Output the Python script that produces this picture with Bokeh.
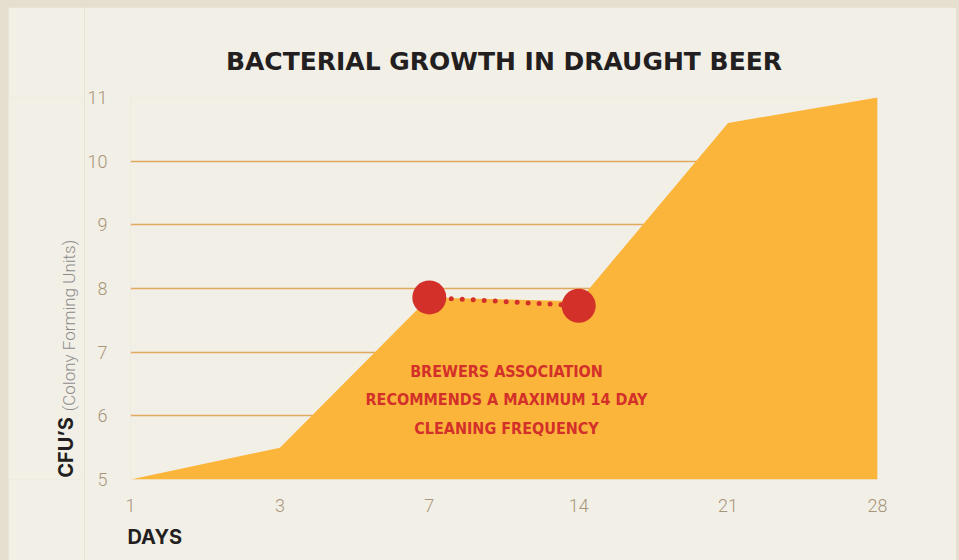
import math
from bokeh.plotting import figure
from bokeh.models import Range1d, FixedTicker, Title
from bokeh.layouts import row
from bokeh.core.properties import value
from bokeh.embed import file_html
from bokeh.resources import INLINE

# ---- data ----
day_labels = ["1", "3", "7", "14", "21", "28"]
cfu_values = [5.0, 5.5, 7.86, 7.8, 10.6, 11.0]
marker_days = ["7", "14"]
marker_cfu = [7.86, 7.73]
y_ticks = [5, 6, 7, 8, 9, 10, 11]
note_lines = ["BREWERS ASSOCIATION", "RECOMMENDS A MAXIMUM 14 DAY", "CLEANING FREQUENCY"]
title_text = "BACTERIAL GROWTH IN DRAUGHT BEER"
x_title = "DAYS"
y_title_bold = "CFU\u2019S"
y_title_light = "(Colony Forming Units)"

# ---- style ----
BG = "#f2efe7"
OUTER = "#e4dfcf"
ORANGE = "#fbb53b"
RED = "#d3302a"
GRID = "#e0a95c"
TICK = "#a8967a"
DARK = "#231f20"

TOTAL_W, H = 948, 553          # page area inside the outer frame
LAB_W = 76                      # narrow strip for the vertical axis title
W = TOTAL_W - LAB_W
LEFT, RIGHT, TOP, BOTTOM = 44, 79, 90, 81

x_idx = list(range(len(day_labels)))
marker_x = [day_labels.index(d) for d in marker_days]

# ---- vertical axis title strip (its frame is aligned with the main frame) ----
lab = figure(width=LAB_W, height=H, output_backend="svg", toolbar_location=None,
             x_range=Range1d(0, LAB_W), y_range=Range1d(BOTTOM, H - TOP),
             x_axis_type=None, y_axis_type=None,
             min_border_left=0, min_border_right=0, min_border_top=TOP, min_border_bottom=BOTTOM)
lab.background_fill_color = BG
lab.border_fill_color = BG
lab.outline_line_color = None
lab.xgrid.visible = False
lab.ygrid.visible = False
lab.text(x=[57], y=[H - 440], text=[y_title_bold], angle=math.pi / 2, text_align="center",
         text_baseline="middle", text_font=value("Inter"), text_font_style="bold",
         text_font_size="20px", text_color=DARK)
lab.text(x=[60], y=[H - 318], text=[y_title_light], angle=math.pi / 2, text_align="center",
         text_baseline="middle", text_font=value("Roboto Light"),
         text_font_size="17px", text_color="#8c8c8c")

# ---- main chart ----
p = figure(width=W, height=H, output_backend="svg", toolbar_location=None,
           x_range=Range1d(0, len(day_labels) - 1), y_range=Range1d(min(y_ticks), max(y_ticks)),
           min_border_left=LEFT, min_border_right=RIGHT, min_border_top=TOP, min_border_bottom=BOTTOM)
p.background_fill_color = BG
p.border_fill_color = BG
p.outline_line_color = None

p.title.text = title_text
p.title.align = "center"
p.title.text_font = "DejaVu Sans"
p.title.text_font_style = "bold"
p.title.text_font_size = "25px"
p.title.text_color = DARK
p.title.standoff = 44

p.add_layout(Title(text=x_title, align="left", offset=-3, text_font="Inter", text_font_style="bold",
                   text_font_size="20px", text_color=DARK, standoff=16), "below")

# axes
p.xaxis.ticker = FixedTicker(ticks=x_idx)
p.xaxis.major_label_overrides = {i: s for i, s in enumerate(day_labels)}
p.yaxis.ticker = FixedTicker(ticks=y_ticks)
for ax in (p.xaxis[0], p.yaxis[0]):
    ax.axis_line_color = None
    ax.major_tick_line_color = None
    ax.minor_tick_line_color = None
    ax.major_tick_out = 0
    ax.major_tick_in = 0
    ax.minor_tick_out = 0
    ax.minor_tick_in = 0
    ax.major_label_text_color = TICK
    ax.major_label_text_font = "Roboto Light"
    ax.major_label_text_font_size = "18px"
p.xaxis.major_label_standoff = 19
p.yaxis.major_label_standoff = 23

p.xgrid.grid_line_color = None
p.ygrid.grid_line_color = GRID
p.ygrid.grid_line_width = 1.5

# area
p.varea(x=x_idx, y1=[min(y_ticks)] * len(x_idx), y2=cfu_values, fill_color=ORANGE)

# dotted connector and markers
p.line(x=marker_x, y=marker_cfu, line_color=RED, line_width=5, line_dash="0 11", line_cap="round")
p.scatter(x=marker_x, y=marker_cfu, size=34, fill_color=RED, line_color=None)

# note text (positions derived from frame geometry)
fw = W - LEFT - RIGHT
fh = H - TOP - BOTTOM
def fx(px):  # px from frame left -> data
    return px / fw * (len(day_labels) - 1)
def fy(py):  # px from frame top -> data
    return max(y_ticks) - py / fh * (max(y_ticks) - min(y_ticks))
note_y = [fy(274), fy(302), fy(331)]
p.text(x=[fx(377)] * 3, y=note_y, text=note_lines, text_align="center", text_baseline="middle",
       text_font=value("DejaVu Sans Condensed"), text_font_style="bold", text_font_size="16px",
       text_color=RED)

layout = row(lab, p, spacing=0)
html = file_html(layout, INLINE)
css = ("<style>html, body { background-color: %s !important; } "
       "body { padding: 7px 0 0 8px !important; box-sizing: border-box; }</style></head>" % OUTER)
html = html.replace("</head>", css, 1)
open("out.html", "w").write(html)
